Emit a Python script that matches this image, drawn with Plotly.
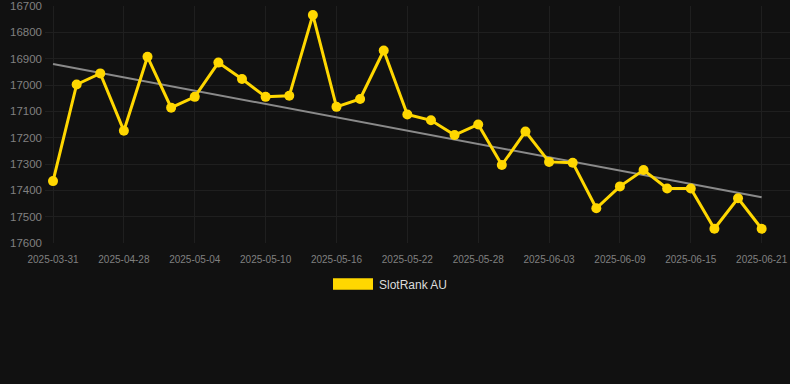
import numpy as np
import plotly.graph_objects as go

dates = ["2025-03-31", "2025-04-24", "2025-04-26", "2025-04-28", "2025-04-30", "2025-05-02",
         "2025-05-04", "2025-05-06", "2025-05-08", "2025-05-10", "2025-05-12", "2025-05-14",
         "2025-05-16", "2025-05-18", "2025-05-20", "2025-05-22", "2025-05-24", "2025-05-26",
         "2025-05-28", "2025-05-30", "2025-06-01", "2025-06-03", "2025-06-05", "2025-06-07",
         "2025-06-09", "2025-06-11", "2025-06-13", "2025-06-15", "2025-06-17", "2025-06-19",
         "2025-06-21"]
rank = [17365, 16998, 16956, 17174, 16893, 17086, 17045, 16915, 16977, 17045, 17041, 16734,
        17083, 17053, 16869, 17112, 17134, 17190, 17150, 17304, 17177, 17292, 17295, 17468,
        17385, 17323, 17393, 17393, 17546, 17430, 17546]
series_name = "SlotRank AU"
y_ticks = [16700, 16800, 16900, 17000, 17100, 17200, 17300, 17400, 17500, 17600]

idx = np.arange(len(dates))
slope, intercept = np.polyfit(idx, rank, 1)
trend = slope * idx + intercept

fig = go.Figure()
fig.add_trace(go.Scatter(x=idx, y=trend, mode="lines",
                         line=dict(color="#8a8a8a", width=2), showlegend=False, hoverinfo="skip"))
fig.add_trace(go.Scatter(x=idx, y=rank, mode="lines+markers", name=series_name,
                         line=dict(color="#ffd700", width=3),
                         marker=dict(color="#ffd700", size=10), showlegend=False))

tick_idx = list(range(0, len(dates), 3))
fig.update_xaxes(range=[-0.34, 31.2], tickmode="array", tickvals=tick_idx,
                 ticktext=[dates[i] for i in tick_idx],
                 showgrid=True, gridcolor="#1f1f1f", gridwidth=1, zeroline=False,
                 showline=False, tickfont=dict(size=10, color="#808080"), ticks="",
                 ticklabelstandoff=9)
fig.update_yaxes(range=[17600, 16700], tickmode="array", tickvals=y_ticks,
                 ticktext=[str(v) for v in y_ticks],
                 showgrid=True, gridcolor="#1f1f1f", gridwidth=1, zeroline=False,
                 showline=False, tickfont=dict(size=11.5, color="#808080"), ticks="",
                 ticklabelstandoff=2)

fig.add_shape(type="rect", xref="paper", yref="paper",
              x0=(333 - 45) / 745, x1=(373 - 45) / 745,
              y0=(243 - 289.7) / 237, y1=(243 - 278.3) / 237,
              fillcolor="#ffd700", line=dict(width=0))
fig.add_annotation(xref="paper", yref="paper", x=(377 - 45) / 745, y=(243 - 285) / 237,
                   text=series_name, showarrow=False, xanchor="left", yanchor="middle",
                   font=dict(size=12, color="#dcdcdc"))

fig.update_layout(width=790, height=384, margin=dict(l=45, r=0, t=6, b=141),
                  paper_bgcolor="#111111", plot_bgcolor="#111111",
                  font=dict(family="Liberation Sans, Arial, sans-serif"))
fig.write_html("out.html", config={"displayModeBar": False},
               post_script="document.body.style.margin='0';document.body.style.background='#111111';")
